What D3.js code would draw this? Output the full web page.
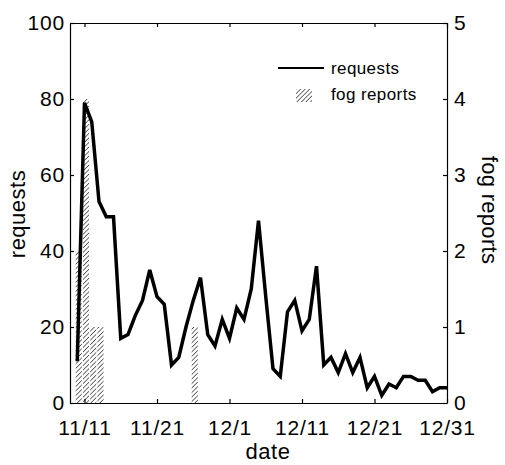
<!DOCTYPE html>
<html>
<head>
<meta charset="utf-8">
<script src="https://cdn.jsdelivr.net/npm/d3@7"></script>
<style>
  body { margin: 0; background: #fff; }
  text { font-family: "Liberation Sans", Arial, sans-serif; fill: #000; }
</style>
</head>
<body>
<svg id="chart" width="505" height="465"></svg>
<script>
// daily requests, 11/10 .. 12/31
var reqStart = "2001-11-10";
var requests = [11, 79, 74, 53, 49, 49, 17, 18, 23, 27, 35, 28, 26, 10, 12, 20, 27, 33, 18, 15, 22,
    17, 25, 22, 30, 48, 28, 9, 7, 24, 27, 19, 22, 36, 10, 12, 8, 13, 8, 12, 4, 7, 2, 5, 4, 7, 7, 6, 6, 3, 4, 4];

// fog report days
var fogDates = ["2001-11-10", "2001-11-11", "2001-11-12", "2001-11-13", "2001-11-26"];
var fogCounts = [2, 4, 1, 1, 1];

var xTicks = ["2001-11-11", "2001-11-21", "2001-12-01", "2001-12-11", "2001-12-21", "2001-12-31"];
var leftTicks = [0, 20, 40, 60, 80, 100];
var rightTicks = [0, 1, 2, 3, 4, 5];

var parse = d3.utcParse("%Y-%m-%d");
var svg = d3.select("#chart");

var x0 = 70, x1 = 447, y0 = 403, y1 = 23;

var x = d3.scaleUtc()
    .domain([parse("2001-11-09"), parse("2001-12-31")])
    .range([x0, x1]);
var y = d3.scaleLinear().domain([0, 100]).range([y0, y1]);
var yFog = d3.scaleLinear().domain([0, 5]).range([y0, y1]);

var dayW = x(parse("2001-11-10")) - x(parse("2001-11-09"));

var reqData = requests.map(function(v, i) {
    return { date: d3.utcDay.offset(parse(reqStart), i), value: v };
});
var fogData = fogDates.map(function(d, i) { return { date: parse(d), value: fogCounts[i] }; });

// hatch pattern
var pat = svg.append("defs").append("pattern")
    .attr("id", "hatch")
    .attr("patternUnits", "userSpaceOnUse")
    .attr("width", 3.2).attr("height", 3.2)
    .attr("patternTransform", "rotate(45)");
pat.append("line")
    .attr("x1", 0).attr("y1", 0).attr("x2", 0).attr("y2", 3.2)
    .attr("stroke", "#111").attr("stroke-width", 1.2);

// fog bars
svg.append("g")
    .selectAll("rect")
    .data(fogData)
    .enter()
    .append("rect")
    .attr("x", function(d) { return x(d.date) - dayW * 0.42 + 1.5; })
    .attr("width", dayW * 0.84)
    .attr("y", function(d) { return yFog(d.value); })
    .attr("height", function(d) { return y0 - yFog(d.value); })
    .attr("fill", "url(#hatch)");

// requests line
svg.append("path")
    .datum(reqData)
    .attr("fill", "none")
    .attr("stroke", "#000")
    .attr("stroke-width", 3.5)
    .attr("stroke-linejoin", "miter")
    .attr("d", d3.line()
        .x(function(d) { return x(d.date); })
        .y(function(d) { return y(d.value); }));

// axes (ticks pointing inward)
var fmt = d3.utcFormat("%-m/%-d");
var xt = xTicks.map(parse);

var gBottom = svg.append("g")
    .attr("transform", "translate(0," + y0 + ")")
    .call(d3.axisBottom(x).tickValues(xt).tickFormat(fmt).tickSizeInner(-4).tickSizeOuter(0).tickPadding(17));
var gTop = svg.append("g")
    .attr("transform", "translate(0," + y1 + ")")
    .call(d3.axisTop(x).tickValues(xt).tickFormat("").tickSizeInner(-4).tickSizeOuter(0));
var gLeft = svg.append("g")
    .attr("transform", "translate(" + x0 + ",0)")
    .call(d3.axisLeft(y).tickValues(leftTicks).tickSizeInner(-4).tickSizeOuter(0).tickPadding(5));
var gRight = svg.append("g")
    .attr("transform", "translate(" + x1 + ",0)")
    .call(d3.axisRight(yFog).tickValues(rightTicks).tickFormat(d3.format("d")).tickSizeInner(-4).tickSizeOuter(0).tickPadding(7));

[gBottom, gTop, gLeft, gRight].forEach(function(g) {
    g.attr("font-family", null).attr("font-size", null);
    g.selectAll("path, line").attr("stroke", "#000").attr("stroke-width", 1.2);
    g.selectAll("text").style("font-size", "21px").style("letter-spacing", "0.8px");
});

// axis titles
svg.append("text")
    .attr("transform", "translate(25," + 214 + ") rotate(-90)")
    .attr("text-anchor", "middle")
    .style("font-size", "22px").style("letter-spacing", "0.5px")
    .text("requests");
svg.append("text")
    .attr("transform", "translate(482," + 210 + ") rotate(90)")
    .attr("text-anchor", "middle")
    .style("font-size", "22px").style("letter-spacing", "0.3px")
    .text("fog reports");
svg.append("text")
    .attr("x", 268).attr("y", 459)
    .attr("text-anchor", "middle")
    .style("font-size", "22px").style("letter-spacing", "0.5px")
    .text("date");

// legend
var lg = svg.append("g");
lg.append("line")
    .attr("x1", 278).attr("x2", 324).attr("y1", 68).attr("y2", 68)
    .attr("stroke", "#000").attr("stroke-width", 2.2);
lg.append("text").attr("x", 331).attr("y", 74)
    .style("font-size", "17px").style("letter-spacing", "0.4px").text("requests");
lg.append("rect")
    .attr("x", 296).attr("y", 89).attr("width", 16).attr("height", 13)
    .attr("fill", "url(#hatch)");
lg.append("text").attr("x", 331).attr("y", 100)
    .style("font-size", "17px").style("letter-spacing", "0.4px").text("fog reports");
</script>
</body>
</html>
